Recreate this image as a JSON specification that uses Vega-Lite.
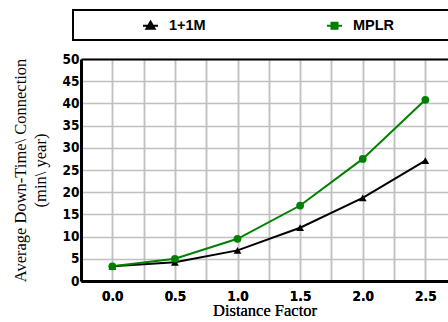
{
  "$schema": "https://vega.github.io/schema/vega-lite/v6.json",
  "autosize": "none",
  "width": 367,
  "height": 222,
  "padding": {"left": 81, "top": 59, "right": 0, "bottom": 41},
  "background": "white",
  "config": {
    "view": {"stroke": null},
    "axis": {
      "labelFont": "Liberation Sans Narrow, DejaVu Sans Condensed, Liberation Sans",
      "labelFontWeight": "bold",
      "labelFontSize": 13.5,
      "labelColor": "#000000",
      "labelOverlap": false,
      "domainColor": "#000000",
      "domainWidth": 3,
      "ticks": false,
      "gridColor": "#c0c0c0",
      "gridWidth": 1.5,
      "gridOpacity": 1,
      "titleFont": "Liberation Serif",
      "titleFontWeight": "normal",
      "titleFontSize": 16.5,
      "titleColor": "#000000"
    }
  },
  "data": {
    "values": [
      {"scheme": "1+1M", "distance": 0.0, "downtime": 3.3},
      {"scheme": "1+1M", "distance": 0.5, "downtime": 4.2},
      {"scheme": "1+1M", "distance": 1.0, "downtime": 6.9},
      {"scheme": "1+1M", "distance": 1.5, "downtime": 12.0},
      {"scheme": "1+1M", "distance": 2.0, "downtime": 18.7},
      {"scheme": "1+1M", "distance": 2.5, "downtime": 27.1},
      {"scheme": "MPLR", "distance": 0.0, "downtime": 3.3},
      {"scheme": "MPLR", "distance": 0.5, "downtime": 5.0},
      {"scheme": "MPLR", "distance": 1.0, "downtime": 9.5},
      {"scheme": "MPLR", "distance": 1.5, "downtime": 17.0},
      {"scheme": "MPLR", "distance": 2.0, "downtime": 27.5},
      {"scheme": "MPLR", "distance": 2.5, "downtime": 40.8}
    ]
  },
  "encoding": {
    "x": {
      "field": "distance", "type": "quantitative",
      "scale": {"domain": [-0.25, 2.681], "nice": false, "zero": false},
      "axis": {
        "orient": "bottom",
        "values": [-0.25, 0, 0.25, 0.5, 0.75, 1, 1.25, 1.5, 1.75, 2, 2.25, 2.5],
        "tickCount": 20,
        "labelExpr": "(datum.value >= 0 && (datum.value * 2) % 1 == 0) ? format(datum.value, '.1f') : ''",
        "grid": true,
        "labelPadding": 8,
        "title": "Distance Factor",
        "titlePadding": 0
      }
    },
    "y": {
      "field": "downtime", "type": "quantitative",
      "scale": {"domain": [0, 50], "nice": false},
      "axis": {
        "values": [0, 5, 10, 15, 20, 25, 30, 35, 40, 45, 50],
        "tickCount": 20,
        "grid": true,
        "labelPadding": 2,
        "title": ["Average Down-Time\\ Connection", "(min\\ year)"],
        "titleLineHeight": 20,
        "titlePadding": 14
      }
    }
  },
  "layer": [
    {
      "mark": {"type": "line", "strokeWidth": 2},
      "encoding": {
        "color": {
          "field": "scheme", "type": "nominal",
          "scale": {"domain": ["1+1M", "MPLR"], "range": ["#000000", "#008000"]},
          "legend": {
            "title": " ",
            "orient": "none",
            "legendX": -8,
            "legendY": -49,
            "columns": 2,
            "columnPadding": 58,
            "titleOrient": "right",
            "titlePadding": 70,
            "titleFontSize": 1,
            "padding": 7,
            "strokeColor": "#000000",
            "fillColor": "#ffffff",
            "symbolSize": 225,
            "symbolOffset": 62,
            "labelFont": "Liberation Sans",
            "labelFontSize": 14.5,
            "labelFontWeight": "bold",
            "labelColor": "#000000",
            "labelOffset": 10,
            "encode": {
              "legend": {
                "update": {
                  "strokeWidth": {"value": 2}
                }
              },
              "symbols": {
                "update": {
                  "shape": {"signal": "datum.value == '1+1M' ? 'M-1,0H1M0,-0.55L0.55,0.4H-0.55Z' : 'M-1,0H1M-0.4,-0.4H0.4V0.4H-0.4Z'"},
                  "fill": {"signal": "scale('color', datum.value)"},
                  "stroke": {"signal": "scale('color', datum.value)"},
                  "strokeWidth": {"value": 2},
                  "opacity": {"value": 1}
                }
              }
            }
          }
        }
      }
    },
    {
      "transform": [{"filter": "datum.scheme == '1+1M'"}],
      "mark": {"type": "point", "filled": true, "size": 60, "opacity": 1, "shape": "triangle-up", "color": "#000000"},
      "encoding": {
        "x": {
          "field": "distance", "type": "quantitative",
          "axis": {"orient": "top", "labels": false, "grid": false, "ticks": false, "domain": true, "domainWidth": 2, "title": null}
        }
      }
    },
    {
      "transform": [{"filter": "datum.scheme == 'MPLR'"}],
      "mark": {"type": "point", "filled": true, "size": 60, "opacity": 1, "shape": "circle", "color": "#008000"}
    }
  ]
}
